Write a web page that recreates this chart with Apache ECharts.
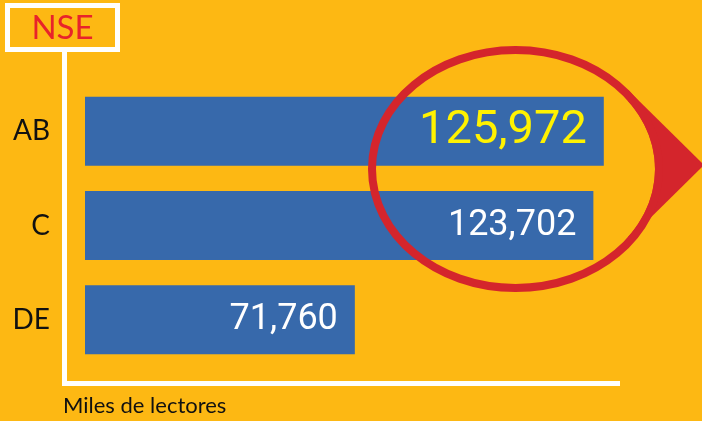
<!DOCTYPE html>
<html>
<head>
<meta charset="utf-8">
<script src="https://cdn.jsdelivr.net/npm/echarts@6/dist/echarts.min.js"></script>
<style>
  html, body { margin: 0; padding: 0; background: #FDB813; }
  #chart { width: 702px; height: 421px; }
</style>
</head>
<body>
<div id="chart"></div>
<script>
// datos
var categories = ["AB", "C", "DE"];
var lectores = [125972, 123702, 71760];
var destacado = 0; // barra resaltada en amarillo

var chart = echarts.init(document.getElementById("chart"));

var barData = lectores.map(function (v, i) {
  return {
    value: v,
    label: i === destacado
      ? { color: "#FFF200", fontSize: 47 }
      : { color: "#ffffff", fontSize: 36 }
  };
});

var option = {
  backgroundColor: "#FDB813",
  animation: false,
  grid: { left: 85, right: 82, top: 84, bottom: 54 },
  xAxis: {
    type: "value",
    min: 13000,
    max: 129500,
    show: false
  },
  yAxis: {
    type: "category",
    data: categories,
    inverse: true,
    axisLine: { show: false },
    axisTick: { show: false },
    axisLabel: {
      margin: 35,
      color: "#111",
      fontSize: 28,
      fontFamily: "Lato"
    }
  },
  series: [
    {
      type: "bar",
      data: barData,
      barWidth: 69,
      itemStyle: { color: "#3769AB" },
      label: {
        show: true,
        position: "insideRight",
        distance: 17,
        fontFamily: "Roboto",
        formatter: function (p) {
          return p.value.toLocaleString("en-US");
        }
      }
    }
  ],
  graphic: [
    // caja del titulo
    {
      type: "rect",
      shape: { x: 7.5, y: 5.5, width: 110, height: 44 },
      style: { fill: "none", stroke: "#ffffff", lineWidth: 5 },
      z: 5
    },
    {
      type: "text",
      x: 62.5,
      y: 28,
      style: {
        text: "NSE",
        fill: "#E8232A",
        fontSize: 33,
        fontFamily: "Lato",
        align: "center",
        verticalAlign: "middle"
      },
      z: 5
    },
    // ejes en L
    {
      type: "polyline",
      shape: { points: [[64.5, 52], [64.5, 383.5], [620, 383.5]] },
      style: { stroke: "#ffffff", lineWidth: 5, fill: "none" },
      z: 5
    },
    {
      type: "text",
      x: 63,
      y: 406,
      style: {
        text: "Miles de lectores",
        fill: "#111",
        fontSize: 22,
        fontFamily: "Lato",
        verticalAlign: "middle"
      },
      z: 5
    },
    // flecha
    {
      type: "polygon",
      shape: { points: [[628, 90], [704, 165], [628, 240]] },
      style: { fill: "#D4252C" },
      z: 0
    },
    {
      type: "ellipse",
      shape: { cx: 515.5, cy: 169, rx: 139.5, ry: 115 },
      style: { fill: "#FDB813" },
      z: 1
    },
    {
      type: "ellipse",
      shape: { cx: 515.5, cy: 169, rx: 143.5, ry: 119 },
      style: { fill: "none", stroke: "#D4252C", lineWidth: 8 },
      z: 10
    }
  ]
};

chart.setOption(option);
</script>
</body>
</html>
